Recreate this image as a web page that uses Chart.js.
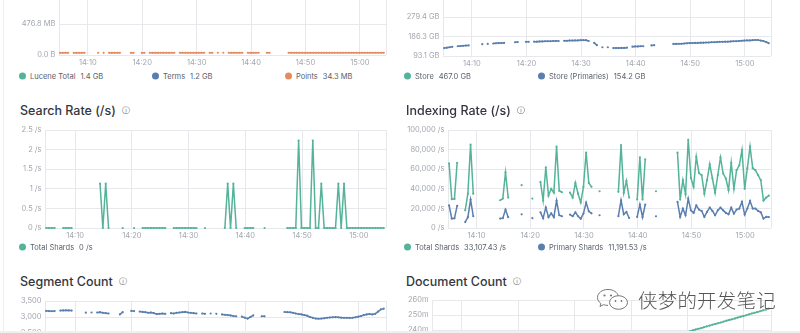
<!DOCTYPE html>
<html>
<head>
<meta charset="utf-8">
<script src="https://cdn.jsdelivr.net/npm/chart.js@4.4.1/dist/chart.umd.min.js"></script>
<style>
  html, body { margin: 0; padding: 0; background: #fff; }
  #board { position: relative; width: 800px; height: 333px; overflow: hidden; background: #fff; font-family: Inter, 'Noto Sans', sans-serif; }
  canvas { position: absolute; }
  .ttl { position: absolute; transform: translateY(-50%); font-size: 12.5px; font-weight: 500; color: #343741; white-space: nowrap; }
  .ttl span { font-size: 8px; color: #69707d; margin-left: 6px; font-family: 'DejaVu Sans', sans-serif; vertical-align: 2px; }
  .lg { position: absolute; transform: translateY(-50%); display: flex; align-items: center; font-size: 7.5px; color: #5a606b; white-space: nowrap; }
  .lg i { display: inline-block; width: 7px; height: 7px; border-radius: 50%; margin-right: 4px; }
  .lg b { font-weight: 400; margin-left: 5px; }
  .wm { position: absolute; left: 596px; top: 285px; display: flex; align-items: center; }
  .wm span { font-family: 'Noto Sans CJK SC', sans-serif; font-size: 19.5px; font-weight: 300; color: #555; margin-left: 9px; letter-spacing: 0.2px; text-shadow: 0 0 2px #fff; }
</style>
</head>
<body>
<div id="board">
  <div style="position:absolute;left:3px;top:0;width:1px;height:333px;background:#eceef1"></div>

  <canvas id="luceneChart" width="390" height="146" style="left:0;top:-75px;width:390px;height:146px"></canvas>
  <canvas id="storeChart" width="375" height="119" style="left:400px;top:-47px;width:375px;height:119px"></canvas>
  <canvas id="searchChart" width="390" height="120" style="left:0;top:124px;width:390px;height:120px"></canvas>
  <canvas id="indexingChart" width="375" height="120" style="left:400px;top:124px;width:375px;height:120px"></canvas>
  <canvas id="segmentChart" width="390" height="134" style="left:0;top:295px;width:390px;height:134px"></canvas>
  <canvas id="docChart" width="375" height="142" style="left:400px;top:294px;width:375px;height:142px"></canvas>

  <div class="lg" style="left:19px;top:76px"><i style="background:#54b399"></i>Lucene Total<b>1.4 GB</b></div>
  <div class="lg" style="left:152px;top:76px"><i style="background:#5a7fae"></i>Terms<b>1.2 GB</b></div>
  <div class="lg" style="left:285px;top:76px"><i style="background:#e48b62"></i>Points<b>34.3 MB</b></div>
  <div class="lg" style="left:404px;top:76px"><i style="background:#54b399"></i>Store<b>467.0 GB</b></div>
  <div class="lg" style="left:538px;top:76px"><i style="background:#5a7fae"></i>Store (Primaries)<b>154.2 GB</b></div>

  <div class="ttl" style="left:20px;top:110px">Search Rate (/s)<span>ⓘ</span></div>
  <div class="ttl" style="left:406px;top:110px">Indexing Rate (/s)<span>ⓘ</span></div>
  <div class="lg" style="left:19px;top:247px"><i style="background:#54b399"></i>Total Shards<b>0 /s</b></div>
  <div class="lg" style="left:404px;top:247px"><i style="background:#54b399"></i>Total Shards<b>33,107.43 /s</b></div>
  <div class="lg" style="left:538px;top:247px"><i style="background:#5a7fae"></i>Primary Shards<b>11,191.53 /s</b></div>

  <div class="ttl" style="left:20px;top:281px">Segment Count<span>ⓘ</span></div>
  <div class="ttl" style="left:406px;top:281px">Document Count<span>ⓘ</span></div>

  <div class="wm">
    <svg width="33" height="23" viewBox="0 0 33 23">
      <path d="M12 1.5c-6 0-10.5 3.6-10.5 8 0 2.4 1.3 4.5 3.4 6l-0.9 3 3.4-1.8c1.4 0.4 2.9 0.7 4.6 0.7" fill="none" stroke="#777" stroke-width="1"/>
      <path d="M12 1.5c5.4 0 9.7 2.9 10.4 6.8" fill="none" stroke="#777" stroke-width="1"/>
      <ellipse cx="22.5" cy="14.5" rx="9" ry="6.8" fill="#fff" stroke="#777" stroke-width="1"/>
      <circle cx="8.5" cy="7.5" r="1.1" fill="#777"/><circle cx="15" cy="7.5" r="1.1" fill="#777"/>
      <circle cx="19.5" cy="13" r="0.9" fill="#777"/><circle cx="25.5" cy="13" r="0.9" fill="#777"/>
    </svg>
    <span>侠梦的开发笔记</span>
  </div>

  <div style="position:absolute;left:0;top:331px;width:800px;height:2px;background:#eef0f2"></div>
</div>

<script>
const _ = null;

// time axis: one sample every 30 s, minutes after 14:00
const sampleStart = 4.9;
const sampleStep = 0.5;
const axisStart = 4.7;
const axisEnd = 64.8;
const xTickMinutes = [10, 20, 30, 40, 50, 60];
const xTickLabels = ['14:10', '14:20', '14:30', '14:40', '14:50', '15:00'];

const green = '#54b399';
const blue = '#5a7fae';
const orange = '#e48b62';
const gridColor = '#e6e8ec';
const tickColor = '#a2a7af';

// Lucene memory (MB)
const luceneTotal = [
  1418, 1419, 1420, 1421, _, 1422, 1423, 1423, 1424, 1425,
  _, _, _, _, 1427, _, 1428, _, 1429, 1429,
  1430, 1430, 1431, _, _, _, 1432, 1432, _, _,
  1433, 1433, _, 1433, 1434, 1434, 1434, 1435, 1435, 1435,
  1436, 1436, 1436, _, 1437, 1437, 1437, 1438, 1438, 1438,
  1438, 1439, 1439, 1439, _, 1439, 1439, _, 1440, _,
  1440, _, 1440, 1440, 1440, 1441, 1441, 1441, _, 1441,
  1441, 1441, 1442, 1442, _, _, 1442, 1442, _, _,
  _, _, _, _, 1443, 1443, 1443, 1443, 1443, 1444,
  1444, 1444, 1444, 1444, 1445, 1445, 1445, 1445, 1445, 1446,
  1446, 1446, 1446, 1446, 1447, 1447, 1447, 1447, 1447, 1448,
  1448, 1448, 1448, 1448, 1449, 1449, 1449, 1449, 1449, 1450
];
const luceneTerms = [
  1214, 1215, 1215, 1216, _, 1217, 1217, 1218, 1218, 1219,
  _, _, _, _, 1220, _, 1221, _, 1221, 1222,
  1222, 1222, 1223, _, _, _, 1223, 1224, _, _,
  1224, 1224, _, 1225, 1225, 1225, 1225, 1226, 1226, 1226,
  1226, 1227, 1227, _, 1227, 1227, 1228, 1228, 1228, 1228,
  1228, 1229, 1229, 1229, _, 1229, 1229, _, 1229, _,
  1230, _, 1230, 1230, 1230, 1230, 1230, 1231, _, 1231,
  1231, 1231, 1231, 1231, _, _, 1232, 1232, _, _,
  _, _, _, _, 1232, 1232, 1232, 1233, 1233, 1233,
  1233, 1233, 1233, 1234, 1234, 1234, 1234, 1234, 1234, 1235,
  1235, 1235, 1235, 1235, 1235, 1236, 1236, 1236, 1236, 1236,
  1236, 1237, 1237, 1237, 1237, 1237, 1237, 1238, 1238, 1238
];
const lucenePoints = [
  34.0, 34.0, 34.1, 34.1, _, 34.1, 34.1, 34.1, 34.2, 34.2,
  _, _, _, _, 34.2, _, 34.2, _, 34.2, 34.2,
  34.2, 34.2, 34.2, _, _, _, 34.2, 34.2, _, _,
  34.2, 34.2, _, 34.2, 34.2, 34.2, 34.2, 34.3, 34.3, 34.3,
  34.3, 34.3, 34.3, _, 34.3, 34.3, 34.3, 34.3, 34.3, 34.3,
  34.3, 34.3, 34.3, 34.3, _, 34.3, 34.3, _, 34.3, _,
  34.3, _, 34.3, 34.3, 34.3, 34.3, 34.3, 34.3, _, 34.3,
  34.3, 34.3, 34.3, 34.3, _, _, 34.3, 34.3, _, _,
  _, _, _, _, 34.3, 34.3, 34.3, 34.3, 34.3, 34.3,
  34.3, 34.3, 34.3, 34.3, 34.3, 34.3, 34.3, 34.3, 34.3, 34.3,
  34.3, 34.3, 34.3, 34.3, 34.3, 34.3, 34.3, 34.3, 34.3, 34.3,
  34.3, 34.3, 34.3, 34.3, 34.3, 34.3, 34.3, 34.3, 34.3, 34.3
];
const luceneTickValues = [0, 476.8, 953.7, 1430.5, 1907.3];
const luceneTickLabels = ['0.0 B', '476.8 MB', '953.7 MB', '1.4 GB', '1.9 GB'];

// Disk (GB)
const storeTotal = [
  397, 403, 409, 415, _, 424, 427, 430, 433, 436,
  _, _, _, _, 455, _, 458, _, 464, 467,
  470, 470, 473, _, _, _, 482, 485, _, _,
  488, 488, _, 491, 491, 494, 494, 497, 497, 497,
  500, 500, 500, _, 503, 503, 506, 506, 509, 509,
  512, 512, 512, 500, _, 473, 439, _, 409, _,
  409, _, 397, 397, 397, 400, 400, 403, _, 418,
  421, 421, 424, 424, _, _, 436, 439, _, _,
  _, _, _, _, 458, 458, 461, 461, 464, 467,
  470, 470, 473, 473, 476, 476, 479, 479, 482, 482,
  485, 488, 488, 491, 491, 494, 497, 497, 500, 503,
  506, 509, 509, 512, 515, 515, 506, 500, 485, 467.0
];
const storePrimaries = [
  131, 133, 135, 137, _, 140, 141, 142, 143, 144,
  _, _, _, _, 150, _, 151, _, 153, 154,
  155, 155, 156, _, _, _, 159, 160, _, _,
  161, 161, _, 162, 162, 163, 163, 164, 164, 164,
  165, 165, 165, _, 166, 166, 167, 167, 168, 168,
  169, 169, 169, 165, _, 156, 145, _, 135, _,
  135, _, 131, 131, 131, 132, 132, 133, _, 138,
  139, 139, 140, 140, _, _, 144, 145, _, _,
  _, _, _, _, 151, 151, 152, 152, 153, 154,
  155, 155, 156, 156, 157, 157, 158, 158, 159, 159,
  160, 161, 161, 162, 162, 163, 164, 164, 165, 166,
  167, 168, 168, 169, 170, 170, 167, 165, 160, 154.2
];
const storeTickValues = [93.1, 186.3, 279.4, 372.5, 465.7, 558.8];
const storeTickLabels = ['93.1 GB', '186.3 GB', '279.4 GB', '372.5 GB', '465.7 GB', '558.8 GB'];

// Search rate (/s)
const searchTotal = [
  0, 0, 0, 0, _, _, 0, 0, 0, 0,
  _, _, _, _, _, _, _, _, _, 1.13,
  0, 1.13, 0, _, _, _, _, 0, _, _,
  _, 0, _, _, 0, 0, 0, 0, 0, 0,
  0, 0, 0, _, _, 0, 0, 0, 0, 0,
  0, 0, 0, 0, _, _, 0, _, _, _,
  _, _, _, 0, 1.13, 0, 1.13, 0, _, _,
  0, 0, 0, 0, _, _, _, 0, _, _,
  _, _, _, _, _, 0, 0, 0, 0, 2.23,
  0, 0, 0, 0, 2.23, 0, 0, 1.13, 0, 0,
  0, 0, 0, 1.13, 0, 1.13, 0, 0, 0, 0,
  0, 0, 0, 0, 0, 0, 0, 0, 0, 0
];
const searchTickValues = [0, 0.5, 1, 1.5, 2, 2.5];
const searchTickLabels = ['0 /s', '0.5 /s', '1 /s', '1.5 /s', '2 /s', '2.5 /s'];

// Indexing rate (/s)
const indexTotal = [
  65900, 29400, 29700, 66500, _, _, 18000, 35000, 85000, 35000,
  _, _, _, _, _, _, _, _, _, 28300,
  30000, 56700, 31000, _, _, _, _, 43700, _, _,
  _, 30000, _, _, 47000, 28000, 62000, 33000, 40000, 36000,
  83000, 38000, 36500, _, _, 36000, 31000, 46000, 35000, 26000,
  42000, 77000, 46000, 42000, _, _, 37500, _, _, _,
  _, _, _, 36900, 84600, 35800, 48000, 31000, _, _,
  29000, 72000, 29000, 70000, _, _, _, 37500, _, _,
  _, _, _, _, _, 77000, 29000, 48800, 34500, 90000,
  51000, 42000, 72700, 56000, 54000, 35000, 48800, 65000, 50500, 36000,
  54000, 72000, 55600, 50500, 38600, 66500, 40000, 59000, 64000, 79500,
  40000, 61000, 83000, 61000, 59000, 54000, 48800, 28000, 31000, 33107
];
const indexPrimary = [
  23200, 9600, 9900, 22500, _, _, 6000, 11000, 29000, 12000,
  _, _, _, _, _, _, _, _, _, 9600,
  10000, 18800, 11000, _, _, _, _, 14000, _, _,
  _, 10000, _, _, 16000, 10000, 21000, 11000, 15000, 11000,
  28000, 13000, 12000, _, _, 13700, 12000, 16000, 12000, 9500,
  14700, 26000, 17000, 15000, _, _, 13000, _, _, _,
  _, _, _, 12000, 28300, 14000, 16400, 10200, _, _,
  11300, 24000, 11000, 24000, _, _, _, 12000, _, _,
  _, _, _, _, _, 26600, 11300, 19800, 13000, 30000,
  18000, 15400, 23000, 18800, 17400, 11300, 16400, 20800, 17400, 13000,
  18000, 20800, 18000, 15400, 14000, 20800, 14700, 18800, 19800, 26600,
  13700, 19800, 27600, 19800, 19800, 17400, 16000, 9600, 11300, 11192
];
const indexTickValues = [0, 20000, 40000, 60000, 80000, 100000];
const indexTickLabels = ['0 /s', '20,000 /s', '40,000 /s', '60,000 /s', '80,000 /s', '100,000 /s'];

// Segment count
const segmentCount = [
  3190, 3185, 3180, 3185, _, 3200, 3205, 3210, 3205, 3200,
  _, _, _, _, 3135, _, 3140, _, 3140, 3150,
  3130, 3120, 3110, _, _, _, 3080, 3150, _, _,
  3190, 3185, _, 3170, 3160, 3150, 3130, 3140, 3120, 3090,
  3100, 3110, 3100, _, 3120, 3110, 3130, 3140, 3150, 3160,
  3140, 3130, 3120, 3110, _, 3110, 3100, _, 3110, _,
  3100, _, 3080, 3070, 3060, 3050, 3030, 3020, _, 3010,
  2980, 2950, 3000, 3050, _, _, 3020, 3020, _, _,
  _, _, _, _, 3156, 3150, 3145, 3130, 3110, 3090,
  3080, 3060, 3040, 3000, 2975, 2950, 2945, 2950, 2960, 2975,
  2985, 2990, 2995, 2990, 2980, 2975, 2975, 2970, 2975, 2990,
  3010, 3030, 3060, 3080, 3090, 3080, 3100, 3170, 3240, 3260
];
const segmentTickValues = [0, 500, 1000, 1500, 2000, 2500, 3000, 3500];
const segmentTickLabels = ['0', '500', '1,000', '1,500', '2,000', '2,500', '3,000', '3,500'];

// Document count (millions)
const docCount = [
  190.4, 190.9, 191.5, 192.0, _, 193.1, 193.6, 194.2, 194.7, 195.2,
  _, _, _, _, 197.9, _, 199.0, _, 200.0, 200.6,
  201.1, 201.6, 202.2, _, _, _, 204.3, 204.9, _, _,
  206.5, 207.0, _, 208.1, 208.6, 209.1, 209.7, 210.2, 210.7, 211.3,
  211.8, 212.3, 212.9, _, 213.9, 214.5, 215.0, 215.5, 216.1, 216.6,
  217.2, 217.7, 218.2, 218.8, _, 219.8, 220.4, _, 221.4, _,
  222.5, _, 223.6, 224.1, 224.6, 225.2, 225.7, 226.2, _, 227.3,
  227.9, 228.4, 228.9, 229.5, _, _, 231.1, 231.6, _, _,
  _, _, _, _, 235.4, 235.9, 236.5, 237.0, 237.6, 238.1,
  238.6, 239.1, 239.7, 240.3, 240.8, 241.2, 241.8, 242.4, 242.9, 243.5,
  244.0, 244.5, 245.0, 245.6, 246.2, 246.7, 247.1, 247.7, 248.3, 248.8,
  249.3, 249.8, 250.4, 251.0, 251.5, 252.0, 252.5, 253.1, 253.6, 254.2
];
const docTickValues = [180, 190, 200, 210, 220, 230, 240, 250, 260];
const docTickLabels = ['180m', '190m', '200m', '210m', '220m', '230m', '240m', '250m', '260m'];

function toPoints(values) {
  return values.map((v, i) => ({ x: sampleStart + i * sampleStep, y: v }));
}

function drawPanel(canvasId, series, yValues, yLabels, yWidth) {
  return new Chart(document.getElementById(canvasId), {
    type: 'line',
    data: {
      datasets: series.map(s => ({
        label: s.label,
        data: toPoints(s.values),
        borderColor: s.color,
        backgroundColor: s.color,
        pointBackgroundColor: s.color,
        borderWidth: 1.5,
        pointRadius: 1.1,
        pointBorderWidth: 0,
        spanGaps: false,
        tension: 0,
        clip: 4,
      })),
    },
    options: {
      responsive: false,
      animation: false,
      events: [],
      layout: { padding: 0 },
      plugins: { legend: { display: false }, tooltip: { enabled: false } },
      scales: {
        x: {
          type: 'linear',
          min: axisStart,
          max: axisEnd,
          afterBuildTicks: s => { s.ticks = [axisStart, ...xTickMinutes, axisEnd].map(v => ({ value: v })); },
          afterFit: s => { s.height = 16; s.paddingLeft = 0; s.paddingRight = 0; },
          ticks: {
            autoSkip: false, maxRotation: 0, padding: 3, color: tickColor,
            font: { family: 'Inter', size: 7.5 },
            callback: v => { const k = xTickMinutes.indexOf(v); return k < 0 ? '' : xTickLabels[k]; },
          },
          grid: { color: gridColor, drawTicks: false },
          border: { display: false },
        },
        y: {
          min: yValues[0],
          max: yValues[yValues.length - 1],
          afterBuildTicks: s => { s.ticks = yValues.map(v => ({ value: v })); },
          afterFit: s => { s.width = yWidth; s.paddingTop = 6; s.paddingBottom = 0; },
          ticks: {
            autoSkip: false, padding: 3.5, color: tickColor,
            font: { family: 'Inter', size: 7.5 },
            callback: (v, i) => yLabels[i],
          },
          grid: { color: gridColor, drawTicks: false },
          border: { display: false },
        },
      },
    },
  });
}

drawPanel('luceneChart', [
  { label: 'Lucene Total', values: luceneTotal, color: green },
  { label: 'Terms', values: luceneTerms, color: blue },
  { label: 'Points', values: lucenePoints, color: orange },
], luceneTickValues, luceneTickLabels, 59);

drawPanel('storeChart', [
  { label: 'Store', values: storeTotal, color: green },
  { label: 'Store (Primaries)', values: storePrimaries, color: blue },
], storeTickValues, storeTickLabels, 43);

drawPanel('searchChart', [
  { label: 'Total Shards', values: searchTotal, color: green },
], searchTickValues, searchTickLabels, 45);

drawPanel('indexingChart', [
  { label: 'Total Shards', values: indexTotal, color: green },
  { label: 'Primary Shards', values: indexPrimary, color: blue },
], indexTickValues, indexTickLabels, 48);

drawPanel('segmentChart', [
  { label: 'Segment Count', values: segmentCount, color: blue },
], segmentTickValues, segmentTickLabels, 45);

drawPanel('docChart', [
  { label: 'Document Count', values: docCount, color: green },
], docTickValues, docTickLabels, 32);
</script>
</body>
</html>
